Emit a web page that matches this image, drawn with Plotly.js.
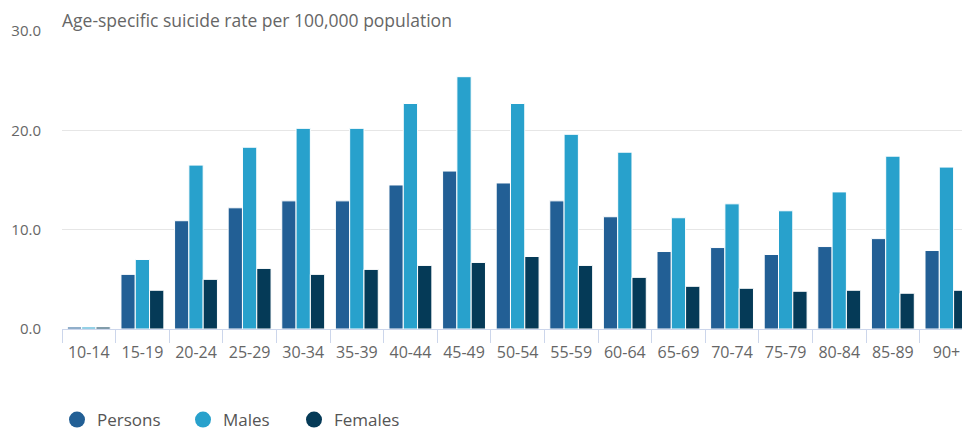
<!DOCTYPE html>
<html>
<head>
<meta charset="utf-8">
<script src="https://cdn.plot.ly/plotly-3.0.1.min.js"></script>
<style>html,body{margin:0;padding:0;background:#fff;}#chart{width:962px;height:430px;}</style>
</head>
<body>
<div id="chart"></div>
<script>
var categories = ["10-14","15-19","20-24","25-29","30-34","35-39","40-44","45-49","50-54","55-59","60-64","65-69","70-74","75-79","80-84","85-89","90+"];
var persons = [0.2, 5.5, 10.9, 12.2, 12.9, 12.9, 14.5, 15.9, 14.7, 12.9, 11.3, 7.8, 8.2, 7.5, 8.3, 9.1, 7.9];
var males   = [0.2, 7.0, 16.5, 18.3, 20.2, 20.2, 22.7, 25.4, 22.7, 19.6, 17.8, 11.2, 12.6, 11.9, 13.8, 17.4, 16.3];
var females = [0.2, 3.9, 5.0, 6.1, 5.5, 6.0, 6.4, 6.7, 7.3, 6.4, 5.2, 4.3, 4.1, 3.8, 3.9, 3.6, 3.9];
var seriesNames = ["Persons", "Males", "Females"];
var colors = ["#225f95", "#28a1cc", "#053a57"];
var seriesValues = [persons, males, females];
var legendIds = ['legend', 'legend2', 'legend3'];
var legendX = [57, 183, 294];

var traces = [];
seriesValues.forEach(function(vals, i){
  traces.push({
    type: 'bar', x: categories, y: vals, name: seriesNames[i],
    marker: {color: colors[i], line: {color: '#ffffff', width: 1}},
    showlegend: false, hoverinfo: 'none'
  });
});
seriesValues.forEach(function(vals, i){
  traces.push({
    type: 'scatter', mode: 'markers', x: [null], y: [null], name: seriesNames[i],
    marker: {color: colors[i], size: 18, symbol: 'circle'},
    showlegend: true, legend: legendIds[i], hoverinfo: 'none'
  });
});

var layout = {
  width: 962, height: 430,
  margin: {l: 62, r: 0, t: 31, b: 101},
  paper_bgcolor: '#ffffff', plot_bgcolor: '#ffffff',
  font: {family: 'Open Sans, sans-serif', color: '#666666', size: 14},
  barmode: 'group', bargap: 0.2, bargroupgap: 0,
  title: {
    text: 'Age-specific suicide rate per 100,000 population',
    font: {family: 'Open Sans, sans-serif', size: 17.5, color: '#666666'},
    xref: 'container', x: 62/962, xanchor: 'left',
    yref: 'container', y: 1 - 21/430, yanchor: 'middle'
  },
  xaxis: {
    type: 'category', range: [-0.5, 16.29],
    showline: true, linecolor: '#ccd6eb', linewidth: 1,
    ticks: 'outside', tickson: 'boundaries', ticklen: 13, tickcolor: '#ccd6eb', tickwidth: 1,
    ticklabelstandoff: 9,
    showgrid: false, zeroline: false,
    tickfont: {size: 16, color: '#666666'}
  },
  yaxis: {
    range: [0, 30], tickvals: [0, 10, 20, 30], tickformat: '.1f',
    showgrid: true, gridcolor: '#e6e6e6', gridwidth: 1,
    zeroline: false, showline: false, ticks: '',
    ticklabelstandoff: 20,
    tickfont: {size: 15, color: '#666666'}
  },
  showlegend: true
};
legendIds.forEach(function(id, i){
  layout[id] = {
    orientation: 'h', xref: 'container', yref: 'container',
    x: legendX[i]/962, xanchor: 'left', y: 10/430, yanchor: 'middle',
    font: {size: 17, color: '#555555'}, itemclick: false, bgcolor: 'rgba(0,0,0,0)'
  };
});

Plotly.newPlot('chart', traces, layout, {staticPlot: true, displayModeBar: false});
</script>
</body>
</html>
